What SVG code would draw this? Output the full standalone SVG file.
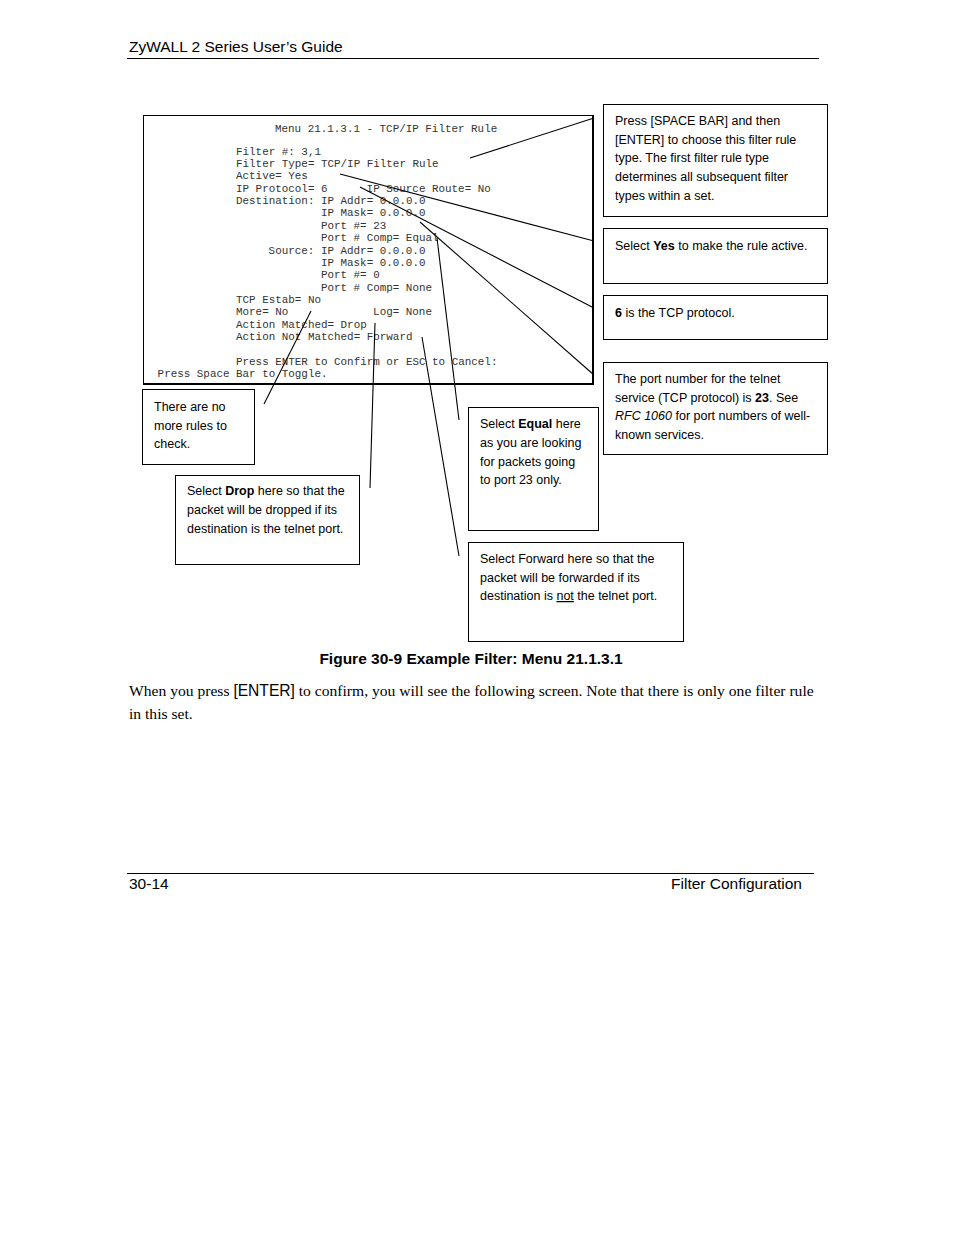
<svg xmlns="http://www.w3.org/2000/svg" width="954" height="1235" viewBox="0 0 954 1235">
<style>
.term{font-family:"Liberation Mono",monospace;font-size:10.9px;fill:#333}
.note{font-family:"Liberation Sans",Arial,sans-serif;font-size:12.5px;fill:#000}
.box{fill:#fff;stroke:#000;stroke-width:1}
.conn line{stroke:#000;stroke-width:1.1}
.hdr{font-family:"Liberation Sans",Arial,sans-serif;font-size:15.5px;fill:#000}
.body{font-family:"Liberation Serif","Times New Roman",serif;font-size:15.6px;fill:#000}
</style>
<rect width="954" height="1235" fill="#fff"/>
<g id="header">
<text class="hdr" x="129" y="52">ZyWALL 2 Series User’s Guide</text>
<line x1="127" y1="58.5" x2="819" y2="58.5" stroke="#000" stroke-width="1"/>
</g>
<g id="terminal">
<rect x="143.5" y="115.5" width="449.5" height="268.5" fill="#fff" stroke="#000" stroke-width="1"/>
<line x1="593" y1="115" x2="593" y2="385" stroke="#000" stroke-width="2"/>
<line x1="143" y1="384" x2="594" y2="384" stroke="#000" stroke-width="2"/>
<text class="term" x="275" y="131.5">Menu 21.1.3.1 - TCP/IP Filter Rule</text>
<text class="term" x="236" y="154.5">Filter #: 3,1</text>
<text class="term" x="236" y="166.5">Filter Type= TCP/IP Filter Rule</text>
<text class="term" x="236" y="178.5">Active= Yes</text>
<text class="term" x="236" y="191.5">IP Protocol= 6</text>
<text class="term" x="366.6" y="191.5">IP Source Route= No</text>
<text class="term" x="236" y="203.5">Destination: IP Addr= 0.0.0.0</text>
<text class="term" x="320.9" y="215.5">IP Mask= 0.0.0.0</text>
<text class="term" x="320.9" y="228.5">Port #= 23</text>
<text class="term" x="320.9" y="240.5">Port # Comp= Equal</text>
<text class="term" x="268.6" y="253.5">Source: IP Addr= 0.0.0.0</text>
<text class="term" x="320.9" y="265.5">IP Mask= 0.0.0.0</text>
<text class="term" x="320.9" y="277.5">Port #= 0</text>
<text class="term" x="320.9" y="290.5">Port # Comp= None</text>
<text class="term" x="236" y="302.5">TCP Estab= No</text>
<text class="term" x="236" y="314.5">More= No</text>
<text class="term" x="373.1" y="314.5">Log= None</text>
<text class="term" x="236" y="327.5">Action Matched= Drop</text>
<text class="term" x="236" y="339.5">Action Not Matched= Forward</text>
<text class="term" x="236" y="364.5">Press ENTER to Confirm or ESC to Cancel:</text>
<text class="term" x="157.6" y="376.5">Press Space Bar to Toggle.</text>
</g>
<g id="connectors" class="conn">
<line x1="470" y1="158" x2="594" y2="118"/>
<line x1="340" y1="174" x2="594" y2="241"/>
<line x1="360" y1="187" x2="594" y2="308"/>
<line x1="420" y1="222" x2="594" y2="375"/>
<line x1="437" y1="238" x2="459" y2="420"/>
<line x1="311" y1="311" x2="264" y2="404"/>
<line x1="375" y1="323" x2="370" y2="488"/>
<line x1="422" y1="337" x2="459" y2="556"/>
</g>
<g id="note-filter-type">
<rect class="box" x="603.5" y="104.5" width="224" height="112"/>
<text class="note" x="615" y="125">Press [SPACE BAR] and then</text>
<text class="note" x="615" y="144">[ENTER] to choose this filter rule</text>
<text class="note" x="615" y="162">type. The first filter rule type</text>
<text class="note" x="615" y="181">determines all subsequent filter</text>
<text class="note" x="615" y="200">types within a set.</text>
</g>
<g id="note-active">
<rect class="box" x="603.5" y="228.5" width="224" height="55"/>
<text class="note" x="615" y="250">Select <tspan font-weight="bold">Yes</tspan> to make the rule active.</text>
</g>
<g id="note-protocol">
<rect class="box" x="603.5" y="295.5" width="224" height="44"/>
<text class="note" x="615" y="317"><tspan font-weight="bold">6</tspan> is the TCP protocol.</text>
</g>
<g id="note-port">
<rect class="box" x="603.5" y="362.5" width="224" height="92"/>
<text class="note" x="615" y="383">The port number for the telnet</text>
<text class="note" x="615" y="402">service (TCP protocol) is <tspan font-weight="bold">23</tspan>. See</text>
<text class="note" x="615" y="420"><tspan font-style="italic">RFC 1060</tspan> for port numbers of well-</text>
<text class="note" x="615" y="439">known services.</text>
</g>
<g id="note-more">
<rect class="box" x="142.5" y="389.5" width="112" height="75"/>
<text class="note" x="154" y="411">There are no</text>
<text class="note" x="154" y="430">more rules to</text>
<text class="note" x="154" y="448">check.</text>
</g>
<g id="note-drop">
<rect class="box" x="175.5" y="475.5" width="184" height="89"/>
<text class="note" x="187" y="495">Select <tspan font-weight="bold">Drop</tspan> here so that the</text>
<text class="note" x="187" y="514">packet will be dropped if its</text>
<text class="note" x="187" y="533">destination is the telnet port.</text>
</g>
<g id="note-equal">
<rect class="box" x="468.5" y="407.5" width="130" height="123"/>
<text class="note" x="480" y="428">Select <tspan font-weight="bold">Equal</tspan> here</text>
<text class="note" x="480" y="447">as you are looking</text>
<text class="note" x="480" y="466">for packets going</text>
<text class="note" x="480" y="484">to port 23 only.</text>
</g>
<g id="note-forward">
<rect class="box" x="468.5" y="542.5" width="215" height="99"/>
<text class="note" x="480" y="563">Select Forward here so that the</text>
<text class="note" x="480" y="582">packet will be forwarded if its</text>
<text class="note" x="480" y="600">destination is <tspan text-decoration="underline">not</tspan> the telnet port.</text>
</g>
<g id="caption">
<text x="471" y="664" text-anchor="middle" font-family="Liberation Sans, Arial, sans-serif" font-size="15.5px" font-weight="bold">Figure 30-9 Example Filter: Menu 21.1.3.1</text>
</g>
<g id="body-text">
<text class="body" x="129" y="696">When you press <tspan font-family="Liberation Sans, Arial, sans-serif">[ENTER]</tspan> to confirm, you will see the following screen. Note that there is only one filter rule</text>
<text class="body" x="129" y="719">in this set.</text>
</g>
<g id="footer">
<line x1="127" y1="873.5" x2="814" y2="873.5" stroke="#000" stroke-width="1"/>
<text class="hdr" x="129" y="889">30-14</text>
<text class="hdr" x="802" y="889" text-anchor="end">Filter Configuration</text>
</g>
</svg>
